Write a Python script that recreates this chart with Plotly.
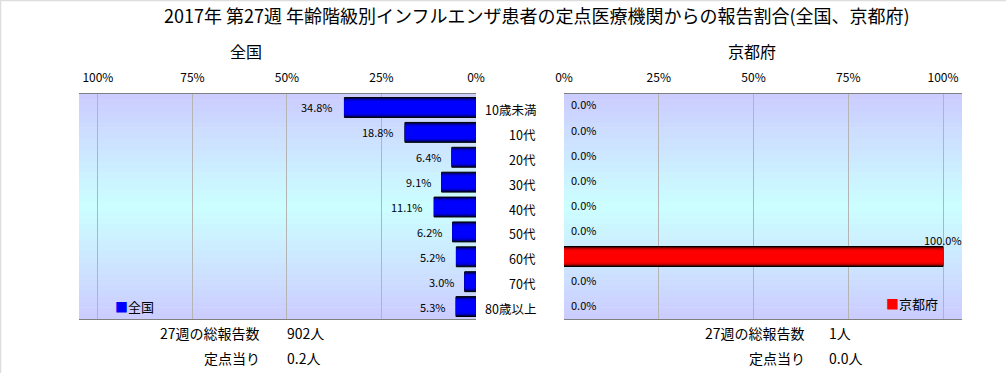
import plotly.graph_objects as go

categories = ["10歳未満", "10代", "20代", "30代", "40代", "50代", "60代", "70代", "80歳以上"]
national = [34.8, 18.8, 6.4, 9.1, 11.1, 6.2, 5.2, 3.0, 5.3]
kyoto = [0.0, 0.0, 0.0, 0.0, 0.0, 0.0, 100.0, 0.0, 0.0]
tick_vals = [0, 25, 50, 75, 100]
tick_text = ["0%", "25%", "50%", "75%", "100%"]
title_text = "2017年 第27週 年齢階級別インフルエンザ患者の定点医療機関からの報告割合(全国、京都府)"
left_title = "全国"
right_title = "京都府"
left_total = "902人"
left_per = "0.2人"
right_total = "1人"
right_per = "0.0人"

FONT = "Noto Sans CJK JP"
W, H = 1006, 373
def px_x(p): return p / W
def px_y(p): return 1 - p / H

xl0, xl1 = px_x(79), px_x(476)
xr0, xr1 = px_x(564), px_x(962)
yb, yt = px_y(319), px_y(94)

fig = go.Figure()

blue_layers = [(0.8, "#000030", 1), (0.74, "#000078", 0), (0.68, "#0000A8", 0),
               (0.62, "#0000D4", 0), (0.54, "#0000F4", 0), (0.44, "#0000FF", 0)]
red_layers = [(0.8, "#300000", 1), (0.74, "#780000", 0), (0.68, "#A80000", 0),
              (0.62, "#D40000", 0), (0.54, "#F40000", 0), (0.44, "#FF0000", 0)]

for i, (w, c, lw) in enumerate(blue_layers):
    fig.add_trace(go.Bar(
        x=national, y=categories, orientation="h", xaxis="x", yaxis="y",
        width=w, marker=dict(color=c, line=dict(color="black", width=lw)),
        textposition="none", showlegend=False, hoverinfo="skip"))

for i, (w, c, lw) in enumerate(red_layers):
    fig.add_trace(go.Bar(
        x=kyoto, y=categories, orientation="h", xaxis="x2", yaxis="y2",
        width=w, marker=dict(color=c, line=dict(color="black", width=[lw if v > 0 else 0 for v in kyoto])),
        textposition="none", showlegend=False, hoverinfo="skip"))

shapes = []
N = 40
def lerp(a, b, t): return int(round(a + (b - a) * t))
for xref in ["x domain", "x2 domain"]:
    yref = "y domain" if xref == "x domain" else "y2 domain"
    for k in range(N):
        t = (k + 0.5) / N
        f = 1 - abs(t - 0.5) * 2
        g = lerp(0xCC, 0xFF, f)
        col = f"rgb(204,{g},255)"
        shapes.append(dict(type="rect", xref=xref, yref=yref, x0=0, x1=1,
                           y0=k / N, y1=(k + 1) / N + 0.002, fillcolor=col,
                           line=dict(width=0), layer="below"))
shapes.append(dict(type="line", xref="paper", yref="paper", x0=0.5 / W, x1=0.5 / W, y0=0, y1=1,
                   line=dict(color="#DDDDDD", width=1.5)))
shapes.append(dict(type="line", xref="paper", yref="paper", x0=0, x1=1, y0=1 - 0.5 / H, y1=1 - 0.5 / H,
                   line=dict(color="#DDDDDD", width=1.5)))

axis_common = dict(tickvals=tick_vals, ticktext=tick_text, side="top", showgrid=True,
                   gridcolor="#B4B4B4", gridwidth=1, showline=True, mirror=True,
                   linecolor="#808080", linewidth=1, zeroline=False, ticks="",
                   tickfont=dict(family=FONT, size=12, color="black"),
                   ticklabelstandoff=6, fixedrange=True, automargin=False)

def ann(text, x, y, size, xanchor="center", **kw):
    return dict(text=text, x=x, y=y, xref="paper", yref="paper", showarrow=False,
                xanchor=xanchor, yanchor="middle", font=dict(family=FONT, size=size, color="black"), **kw)

annotations = [
    ann(title_text, px_x(537), px_y(15), 18),
    ann(left_title, px_x(246), px_y(51), 16),
    ann(right_title, px_x(752), px_y(51), 16),
    ann("<span style='color:#0000FF'>■</span>全国", px_x(113), px_y(306), 13, xanchor="left"),
    ann("<span style='color:#FF0000'>■</span>京都府", px_x(884), px_y(303), 13, xanchor="left"),
]
for c in categories:
    annotations.append(dict(text=c, x=px_x(538), y=c, xref="paper", yref="y", showarrow=False,
                            xanchor="right", yanchor="middle", yshift=-2,
                            font=dict(family=FONT, size=12.5, color="black")))
for c, v in zip(categories, national):
    annotations.append(dict(text=f"{v:.1f}%", x=v, y=c, xref="x", yref="y", showarrow=False,
                            xanchor="right", yanchor="middle", xshift=-9, yshift=0,
                            font=dict(family=FONT, size=11, color="black")))
for c, v in zip(categories, kyoto):
    if v > 0:
        annotations.append(dict(text=f"{v:.1f}%", x=v, y=c, xref="x2", yref="y2", showarrow=False,
                                xanchor="center", yanchor="middle", yshift=17,
                                font=dict(family=FONT, size=11, color="black")))
    else:
        annotations.append(dict(text=f"{v:.1f}%", x=v, y=c, xref="x2", yref="y2", showarrow=False,
                                xanchor="left", yanchor="middle", xshift=5, yshift=2,
                                font=dict(family=FONT, size=11, color="black")))
for lbl, val, xr, xv, yy in [
    ("27週の総報告数", left_total, 262, 285, 333),
    ("定点当り", left_per, 262, 285, 358),
    ("27週の総報告数", right_total, 807, 827, 333),
    ("定点当り", right_per, 807, 827, 358),
]:
    annotations.append(ann(lbl, px_x(xr), px_y(yy), 14, xanchor="right"))
    annotations.append(ann(val, px_x(xv), px_y(yy), 14, xanchor="left"))

fig.update_layout(
    width=W, height=H, margin=dict(l=0, r=0, t=0, b=0, pad=0, autoexpand=False),
    paper_bgcolor="white", plot_bgcolor="rgba(0,0,0,0)",
    barmode="overlay", bargap=0.2,
    xaxis=dict(domain=[xl0, xl1], range=[105, 0], anchor="y", **axis_common),
    yaxis=dict(domain=[yb, yt], anchor="x", autorange="reversed", showticklabels=False,
               showgrid=False, fixedrange=True, automargin=False),
    xaxis2=dict(domain=[xr0, xr1], range=[0, 105], anchor="y2", **axis_common),
    yaxis2=dict(domain=[yb, yt], anchor="x2", autorange="reversed", showticklabels=False,
                showgrid=False, fixedrange=True, automargin=False),
    shapes=shapes, annotations=annotations, showlegend=False,
)

fig.write_html("out.html", config={"displayModeBar": False},
               post_script="document.body.style.margin='0';document.body.style.padding='0';document.body.style.overflow='hidden';")
